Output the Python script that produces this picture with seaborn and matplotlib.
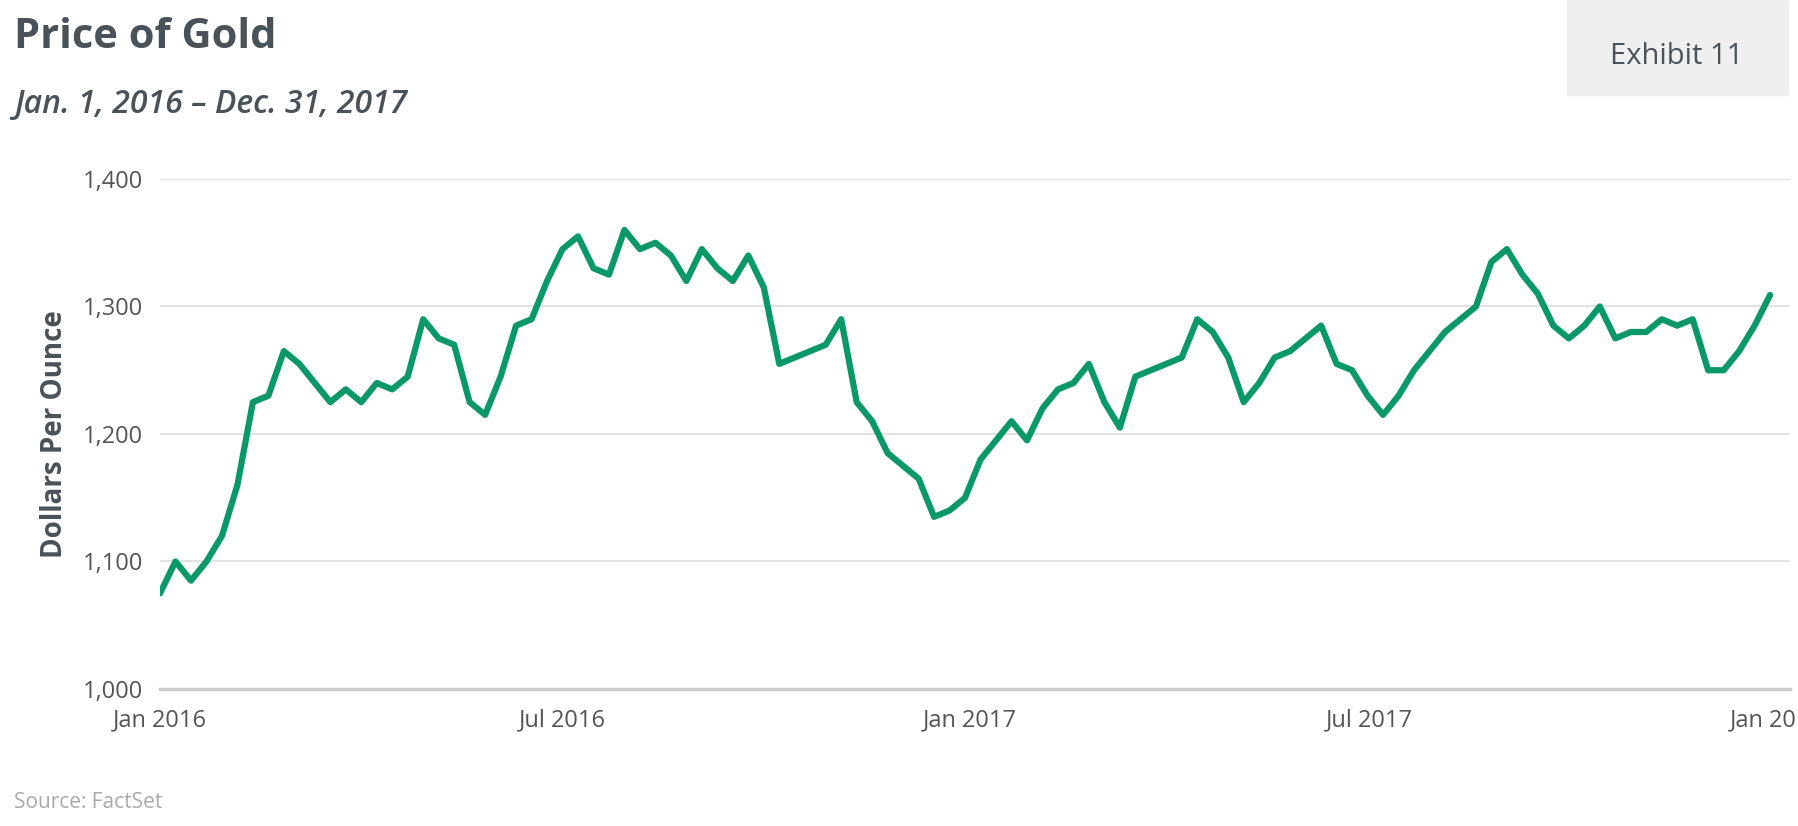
import matplotlib
matplotlib.use("Agg")
import matplotlib.pyplot as plt
from matplotlib.patches import Rectangle
import seaborn as sns
import pandas as pd

# weekly gold price
dates = pd.date_range("2016-01-01", periods=105, freq="7D")
prices = [
    1075, 1100, 1085, 1100, 1120, 1160, 1225, 1230, 1265, 1255,
    1240, 1225, 1235, 1225, 1240, 1235, 1245, 1290, 1275, 1270,
    1225, 1215, 1245, 1285, 1290, 1320, 1345, 1355, 1330, 1325,
    1360, 1345, 1350, 1340, 1320, 1345, 1330, 1320, 1340, 1315,
    1255, 1260, 1265, 1270, 1290, 1225, 1210, 1185, 1175, 1165,
    1135, 1140, 1150, 1180, 1195, 1210, 1195, 1220, 1235, 1240,
    1255, 1225, 1205, 1245, 1250, 1255, 1260, 1290, 1280, 1260,
    1225, 1240, 1260, 1265, 1275, 1285, 1255, 1250, 1230, 1215,
    1230, 1250, 1265, 1280, 1290, 1300, 1335, 1345, 1325, 1310,
    1285, 1275, 1285, 1300, 1275, 1280, 1280, 1290, 1285, 1290,
    1250, 1250, 1265, 1285, 1309,
]
df = pd.DataFrame({"date": dates, "price": prices})

yticks = [1000, 1100, 1200, 1300, 1400]
xticks = pd.to_datetime(["2016-01-01", "2016-07-01", "2017-01-01", "2017-07-01", "2018-01-01"])
xlabels = ["Jan 2016", "Jul 2016", "Jan 2017", "Jul 2017", "Jan 2018"]

sns.set_theme(style="white")
plt.rcParams["font.family"] = ["Open Sans", "DejaVu Sans"]
text_col = "#4a5259"

fig = plt.figure(figsize=(17.98, 8.26), dpi=100)
ax = fig.add_axes([160 / 1798, 137 / 826, 1630 / 1798, 510 / 826])

sns.lineplot(data=df, x="date", y="price", ax=ax, color="#0a9868", linewidth=4.5)

ax.set_ylim(1000, 1400)
ax.set_yticks(yticks)
ax.set_yticklabels([f"{v:,}" for v in yticks], fontsize=17, color="#555")
ax.set_xlim(pd.Timestamp("2016-01-01"), pd.Timestamp("2018-01-07"))
ax.set_xticks(xticks)
ax.set_xticklabels(xlabels, fontsize=17, color="#555")
ax.grid(axis="y", color="#dddddd", linewidth=1.2)
for s in ["top", "right", "left"]:
    ax.spines[s].set_visible(False)
ax.spines["bottom"].set_color("#cccccc")
ax.spines["bottom"].set_linewidth(2.5)
ax.tick_params(axis="x", length=8, color="#cccccc", width=1.5, pad=6)
ax.tick_params(axis="y", length=0, pad=12)
ax.set_xlabel("")
ax.set_ylabel("Dollars Per Ounce", fontsize=20, fontweight="bold", color=text_col, labelpad=10)

fig.text(14 / 1798, 1 - 38 / 826, "Price of Gold", fontsize=30, fontweight="bold",
         color=text_col, va="center")
fig.text(14 / 1798, 1 - 104 / 826, "Jan. 1, 2016 – Dec. 31, 2017", fontsize=23,
         fontstyle="italic", fontweight="semibold", color=text_col, va="center")
fig.patches.append(Rectangle((1567 / 1798, 1 - 95 / 826), 221 / 1798, 95 / 826,
                             transform=fig.transFigure, color="#efefef"))
fig.text(1677 / 1798, 1 - 57 / 826, "Exhibit 11", fontsize=21, color=text_col,
         ha="center", va="center")
fig.text(14 / 1798, 1 - 803 / 826, "Source: FactSet", fontsize=15, color="#aaaaaa", va="center")

fig.savefig("out.png", dpi=100)
